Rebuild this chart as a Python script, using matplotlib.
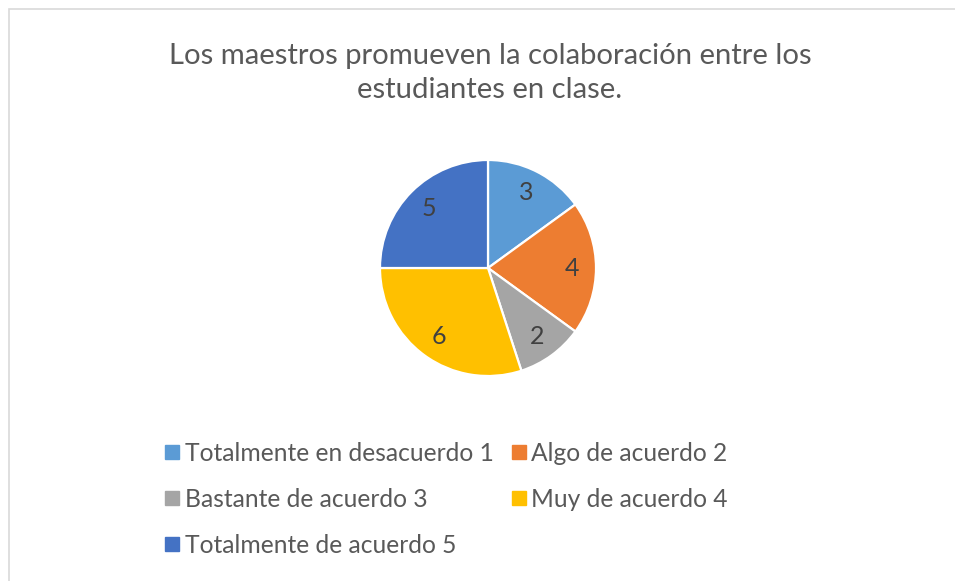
import matplotlib.pyplot as plt
from matplotlib.lines import Line2D
from matplotlib.patches import Rectangle

categories = ['Totalmente en desacuerdo 1', 'Algo de acuerdo 2', 'Bastante de acuerdo 3',
              'Muy de acuerdo 4', 'Totalmente de acuerdo 5']
values = [3, 4, 2, 6, 5]
colors = ['#5B9BD5', '#ED7D31', '#A5A5A5', '#FFC000', '#4472C4']
title = 'Los maestros promueven la colaboración entre los\nestudiantes en clase.'

plt.rcParams['font.family'] = ['Lato', 'DejaVu Sans']

W, H = 955, 581
fig = plt.figure(figsize=(W / 100, H / 100), dpi=100)

# chart frame (only top and left edges are visible in the crop)
fig.patches.append(Rectangle((8.5 / W, -0.1), 1.2, 1.1 - 8.5 / H, transform=fig.transFigure,
                             fill=False, edgecolor='#d9d9d9', linewidth=1.2))

fig.text(490 / W, 1 - 73 / H, title, ha='center', va='center', fontsize=21.1,
         color='#595959', linespacing=1.42)

cx, cy, r = 488, 268, 108
ax = fig.add_axes([(cx - r) / W, (H - cy - r) / H, 2 * r / W, 2 * r / H])
wedges, texts, autotexts = ax.pie(values, colors=colors, startangle=90, counterclock=False,
                                  autopct=lambda p: f'{p * sum(values) / 100:.0f}',
                                  pctdistance=0.78,
                                  wedgeprops=dict(edgecolor='white', linewidth=1.6))
for t in autotexts:
    t.set_fontsize(18)
    t.set_color('#404040')
ax.set_xlim(-1, 1)
ax.set_ylim(-1, 1)
ax.set_aspect('equal')

# legend filled row-wise like Excel
order = [0, 2, 4, 1, 3]
handles = [Line2D([], [], marker='s', linestyle='', markersize=9.5,
                  markerfacecolor=colors[i], markeredgecolor=colors[i]) for i in order]
labels = [categories[i] for i in order]
fig.legend(handles, labels, ncol=2, loc='upper left', bbox_to_anchor=(155 / W, 1 - 432 / H),
           frameon=False, fontsize=17.7, labelcolor='#595959', handlelength=0.55,
           handletextpad=0.25, columnspacing=0.75, labelspacing=0.93, borderaxespad=0)

fig.savefig('out.png', dpi=100, facecolor='white')
